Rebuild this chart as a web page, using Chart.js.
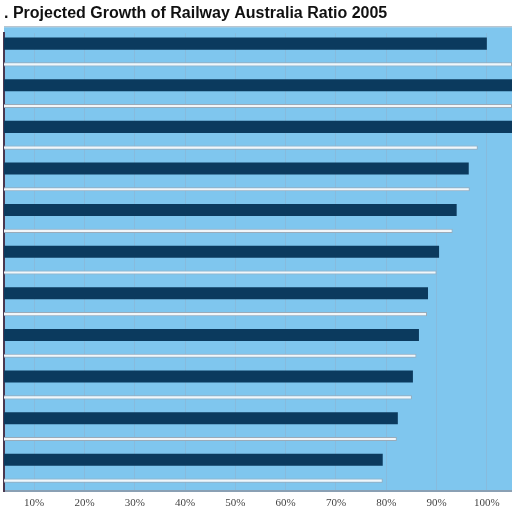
<!DOCTYPE html>
<html>
<head>
<meta charset="utf-8">
<script src="https://cdn.jsdelivr.net/npm/chart.js@4.4.0/dist/chart.umd.min.js"></script>
<style>
  html, body { margin: 0; padding: 0; background: #fff; }
  #wrap { width: 512px; height: 512px; }
</style>
</head>
<body>
<div id="wrap"><canvas id="grafico" width="512" height="512"></canvas></div>
<script>
const categorias = ['1995', '1996', '1997', '1998', '1999', '2000', '2001', '2002', '2003', '2004', '2005'];
const serieEscura = [100, 105, 105, 96.4, 94, 90.5, 88.3, 86.5, 85.3, 82.3, 79.3];
const serieClara = [105, 105, 98.2, 96.6, 93.2, 90, 88.1, 86, 85.1, 82.1, 79.3];
const ticksX = [10, 20, 30, 40, 50, 60, 70, 80, 90, 100];
const rotulosX = ['10%', '20%', '30%', '40%', '50%', '60%', '70%', '80%', '90%', '100%'];

// fundo azul da area do grafico
const fundo = {
  id: 'fundo',
  beforeDraw(chart) {
    const { ctx, chartArea: a } = chart;
    ctx.save();
    ctx.fillStyle = '#7fc6ee';
    ctx.fillRect(a.left, a.top - 6, a.right - a.left, a.bottom - a.top + 6);
    ctx.strokeStyle = '#a9b8c4';
    ctx.lineWidth = 1;
    ctx.beginPath();
    ctx.moveTo(a.left, a.top - 6.5);
    ctx.lineTo(a.right, a.top - 6.5);
    ctx.stroke();
    ctx.restore();
  }
};

const config = {
  type: 'bar',
  data: {
    labels: categorias,
    datasets: [{
      label: 'A',
      data: serieEscura,
      backgroundColor: '#0b3a5e',
      categoryPercentage: 1.0,
      barPercentage: 0.58,
    }, {
      label: 'B',
      data: serieClara,
      backgroundColor: '#f2f6f9',
      borderColor: '#9aabb9',
      borderWidth: 1,
      categoryPercentage: 1.0,
      barPercentage: 0.2,
    }]
  },
  options: {
    indexAxis: 'y',
    responsive: false,
    animation: false,
    layout: { padding: { left: 4, right: 0, top: 0, bottom: 2 } },
    plugins: {
      legend: { display: false },
      tooltip: { enabled: false },
      title: {
        display: true,
        text: '. Projected Growth of Railway Australia Ratio 2005',
        align: 'start',
        color: '#111',
        font: { family: 'Liberation Sans', size: 16, weight: 'bold' },
        padding: { top: 4, bottom: 10 }
      }
    },
    scales: {
      x: {
        type: 'linear',
        min: 4,
        max: 105,
        afterBuildTicks: (axis) => { axis.ticks = ticksX.map(v => ({ value: v })); },
        afterFit: (axis) => { axis.height = 19; },
        ticks: {
          padding: 7,
          color: '#444',
          font: { family: 'Liberation Serif', size: 11, lineHeight: 1 },
          callback: (v) => rotulosX[ticksX.indexOf(v)] ?? ''
        },
        grid: { color: 'rgba(140,180,210,0.6)', drawTicks: false },
        border: { display: true, color: '#8aa0b4', width: 2 }
      },
      y: {
        ticks: { display: false },
        grid: { display: false, drawTicks: false },
        border: { display: true, color: '#4a3850', width: 2 }
      }
    }
  },
  plugins: [fundo]
};

const ctx = document.getElementById('grafico').getContext('2d');
new Chart(ctx, config);
</script>
</body>
</html>
